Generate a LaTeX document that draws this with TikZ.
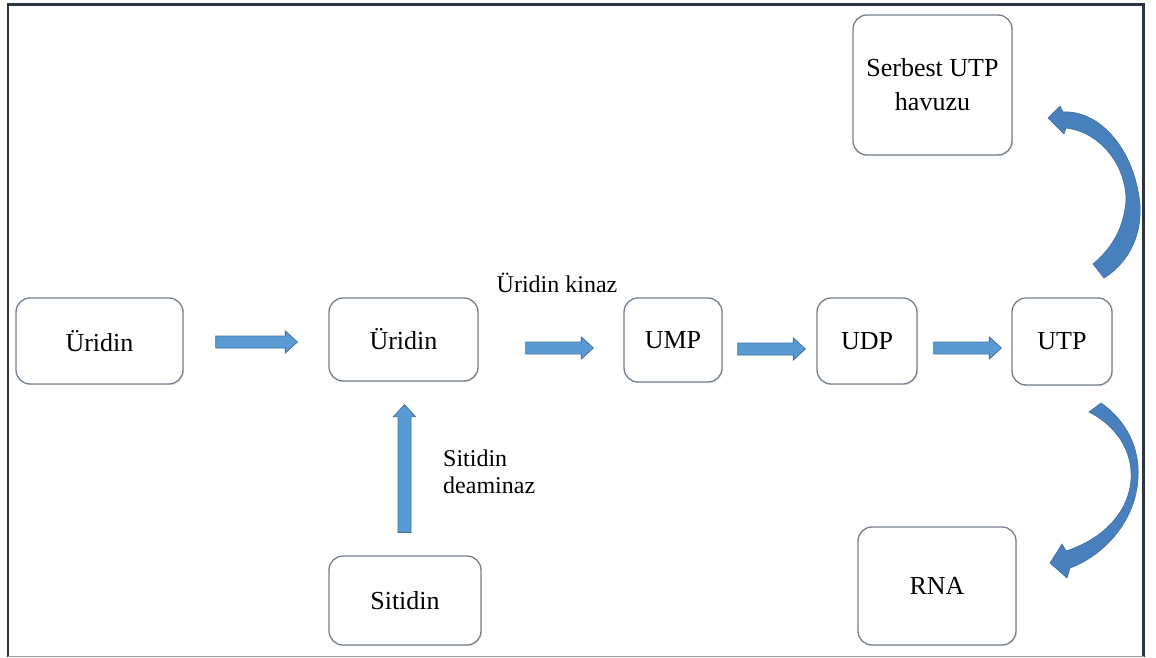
\documentclass[tikz,border=0pt]{standalone}
\usepackage{fontspec}
\setmainfont{Liberation Serif}
\usetikzlibrary{calc,shadows}
\definecolor{framec}{RGB}{44,54,66}
\definecolor{boxline}{RGB}{118,128,140}
\definecolor{arrowfill}{RGB}{91,155,213}
\definecolor{arrowline}{RGB}{65,113,156}
\definecolor{curvefill}{RGB}{72,128,190}
\begin{document}
\begin{tikzpicture}[x=1pt,y=-1pt,
  box/.style={draw=boxline, line width=1.3pt, fill=white, rounded corners=14pt,
    align=center, inner sep=0pt, font=\fontsize{26}{34}\selectfont,
    drop shadow={opacity=0.18, shadow xshift=1.2pt, shadow yshift=-1.2pt}},
  lbl/.style={font=\fontsize{24}{27}\selectfont, inner sep=0pt, align=left},
  harrow/.style={fill=arrowfill, draw=arrowline, line width=0.8pt,
    to path={let \p1=(\tikztostart), \p2=(\tikztotarget) in
      (\x1,\y1+6pt) -- (\x2-12pt,\y1+6pt) -- (\x2-12pt,\y1+11pt) -- (\x2,\y1)
      -- (\x2-12pt,\y1-11pt) -- (\x2-12pt,\y1-6pt) -- (\x1,\y1-6pt) -- cycle}},
  varrow/.style={fill=arrowfill, draw=arrowline, line width=0.8pt,
    to path={let \p1=(\tikztostart), \p2=(\tikztotarget) in
      (\x1-6.5pt,\y1) -- (\x1-6.5pt,\y2-12pt) -- (\x1-11pt,\y2-12pt) -- (\x1,\y2)
      -- (\x1+11pt,\y2-12pt) -- (\x1+6.5pt,\y2-12pt) -- (\x1+6.5pt,\y1) -- cycle}},
  curved/.style={fill=curvefill, draw=curvefill!85!black, line width=0.6pt}
]
\useasboundingbox (0,0) rectangle (1156,658);

% outer frame
\draw[framec, line width=2.6pt] (8,657) -- (8,4.5) -- (1143.5,4.5) -- (1143.5,657);
\draw[gray!75, line width=1.5pt] (8,656.5) -- (1143.5,656.5);

% boxes
\node[box, minimum width=167, minimum height=86]  (u1)   at (99.5,341)   {Üridin};
\node[box, minimum width=149, minimum height=83]  (u2)   at (403.5,339.5) {Üridin};
\node[box, minimum width=98,  minimum height=84]  (ump)  at (673,340)    {UMP};
\node[box, minimum width=100, minimum height=86]  (udp)  at (867,341)    {UDP};
\node[box, minimum width=100, minimum height=87]  (utp)  at (1062,341.5) {UTP};
\node[box, minimum width=159, minimum height=140] (pool) at (932.5,85)   {Serbest UTP\\havuzu};
\node[box, minimum width=152, minimum height=89]  (sit)  at (405,600.5)  {Sitidin};
\node[box, minimum width=158, minimum height=118] (rna)  at (937,586)    {RNA};

% enzyme labels
\node[lbl, anchor=base] (kin) at (557,292) {Üridin kinaz};
\node[lbl, anchor=north west] (dea) at (443,449.5) {Sitidin\\deaminaz};

% straight block arrows
\path[harrow] ($(u1.east)+(32,1)$)  to ($(u2.west)+(-31,1)$);
\path[harrow] ($(u2.east)+(47,8.5)$) to ($(ump.west)+(-30,8.5)$);
\path[harrow] ($(ump.east)+(15,9)$) to ($(udp.west)+(-11,9)$);
\path[harrow] ($(udp.east)+(16,7)$) to ($(utp.west)+(-10,7)$);
\path[varrow] ($(sit.north)+(-0.5,-23)$) to ($(u2.south)+(0,23)$);

% curved arrow from UTP up to the free UTP pool
\path[curved] (1063,112) .. controls (1100,110) and (1135,150) .. (1140,205)
  .. controls (1142,240) and (1125,265) .. (1104,278) -- (1093,264)
  .. controls (1112,248) and (1124,228) .. (1126,200)
  .. controls (1126,165) and (1100,132) .. (1066,128)
  -- (1064,134) -- (1048,118) -- (1060,106) -- cycle;

% curved arrow from UTP down to RNA
\path[curved] (1101,403) .. controls (1128,422) and (1140,450) .. (1138,478)
  .. controls (1136,520) and (1105,555) .. (1070,568)
  -- (1067,578) -- (1050,563) -- (1062,544) -- (1066,551)
  .. controls (1100,540) and (1128,515) .. (1131,480)
  .. controls (1133,450) and (1115,425) .. (1089,412) -- cycle;
\end{tikzpicture}
\end{document}
